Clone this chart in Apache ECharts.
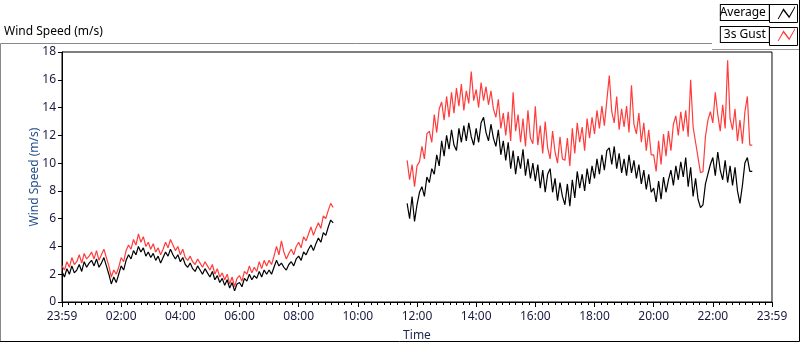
<!DOCTYPE html>
<html>
<head>
<meta charset="utf-8">
<title>Wind Speed</title>
<script src="https://cdn.jsdelivr.net/npm/echarts@6/dist/echarts.min.js"></script>
<style>
  html, body { margin: 0; padding: 0; background: #fff; }
  #chart { width: 800px; height: 342px; }
</style>
</head>
<body>
<div id="chart"></div>
<script>
// minutes since midnight; 5 min steps
const seg1Start = 0;
const seg2Start = 700;
const stepMin = 5;

// 00:00 - 09:10
const avg1 = [
  2.2, 1.8, 2.4, 2.0, 2.6, 2.1, 2.3, 2.7, 2.2, 2.9, 2.5, 2.8,
  3.0, 2.6, 3.1, 2.5, 2.8, 3.2, 2.6, 2.0, 1.3, 1.8, 1.4, 2.0,
  2.6, 2.3, 3.0, 3.4, 3.1, 3.7, 3.4, 4.0, 3.6, 3.9, 3.3, 3.6,
  3.2, 3.5, 3.0, 3.3, 2.8, 3.2, 3.6, 3.3, 3.8, 3.4, 3.1, 3.4,
  2.9, 3.2, 2.7, 2.5, 2.8, 2.4, 2.2, 2.6, 2.3, 2.0, 2.4, 2.1,
  1.8, 2.2, 1.6, 1.9, 1.4, 1.7, 1.2, 1.6, 1.0, 1.4, 0.8, 1.3,
  1.4, 1.1, 1.7, 1.5, 2.0, 1.6, 1.9, 1.7, 2.2, 1.8, 2.3, 2.0,
  2.3, 2.0, 2.5, 3.0, 2.6, 2.8, 2.5, 2.3, 2.7, 2.9, 2.6, 3.1,
  3.3, 3.0, 3.6, 3.4, 3.8, 4.1, 3.7, 4.2, 4.6, 4.3, 5.0, 4.8,
  5.4, 5.9, 5.7
];
const gust1 = [
  2.6, 2.3, 2.9, 2.5, 3.2, 2.7, 2.9, 3.4, 2.8, 3.5, 3.1, 3.3,
  3.6, 3.1, 3.7, 3.0, 3.4, 3.8, 3.2, 2.6, 1.8, 2.3, 2.0, 2.5,
  3.2, 2.9, 3.7, 4.1, 3.8, 4.5, 4.1, 4.9, 4.3, 4.7, 4.0, 4.3,
  3.8, 4.2, 3.6, 3.9, 3.4, 3.8, 4.3, 3.9, 4.5, 4.1, 3.7, 4.0,
  3.4, 3.8, 3.2, 3.0, 3.3, 2.9, 2.7, 3.1, 2.8, 2.5, 2.9, 2.6,
  2.3, 2.7, 2.0, 2.4, 1.8, 2.1, 1.6, 2.0, 1.3, 1.8, 1.1, 1.7,
  1.9, 1.5, 2.2, 2.0, 2.6, 2.1, 2.5, 2.2, 2.9, 2.4, 3.0, 2.6,
  3.0, 2.7, 3.3, 4.0, 3.4, 4.4, 3.6, 3.1, 3.5, 3.8, 3.4, 4.0,
  4.3, 3.9, 4.7, 4.4, 4.9, 5.4, 4.8, 5.3, 5.7, 5.3, 6.2, 6.0,
  6.6, 7.1, 6.8
];

// 11:40 - 23:20
const avg2 = [
  7.1, 6.0, 7.6, 5.8,
  7.0, 7.9, 8.3, 7.6, 9.0, 8.6, 9.6, 9.2, 10.6, 9.8, 11.6, 10.5,
  12.0, 11.0, 12.4, 11.3, 10.9, 12.5, 11.5, 12.7, 11.6, 12.9, 11.9, 11.3,
  12.5, 11.5, 12.9, 13.3, 12.2, 11.6, 12.8, 11.8, 11.2, 12.4, 10.6, 11.6,
  10.2, 11.5, 9.6, 10.9, 9.2, 10.5, 9.6, 11.0, 9.1, 10.3, 8.9, 10.0,
  8.7, 9.9, 8.2, 9.5, 7.9, 9.2, 9.6, 7.9, 8.9, 7.3, 8.6, 7.6,
  7.0, 8.5, 6.9, 8.8, 7.5, 9.4, 8.2, 9.2, 8.0, 9.6, 8.5, 9.8,
  8.9, 10.3, 9.2, 10.6, 9.5, 10.9, 11.1, 9.9, 11.2, 9.6, 10.7, 9.3,
  10.3, 9.1, 10.6, 9.3, 10.2, 8.9, 9.9, 8.5, 9.5, 8.1, 9.2, 7.9,
  8.2, 7.2, 8.7, 7.4, 9.0, 7.9, 8.8, 9.5, 8.4, 9.8, 8.8, 10.1,
  9.0, 10.4, 8.3, 9.7, 7.6, 8.9, 7.4, 6.8, 7.0, 8.5, 9.2, 9.9,
  10.4, 9.1, 10.8, 9.5, 8.8, 10.2, 8.6, 9.8, 8.4, 9.7, 8.0, 7.1,
  8.4, 10.0, 10.4, 9.4, 9.4
];
const gust2 = [
  10.2, 8.8, 9.9, 8.3,
  9.8, 10.1, 11.2, 10.3, 12.1, 12.3, 11.5, 13.5, 12.2, 13.9, 14.4, 13.1,
  14.8, 13.3, 15.1, 13.6, 15.4, 14.1, 15.7, 13.8, 15.2, 14.3, 16.6, 14.5,
  15.3, 14.0, 15.8, 14.5, 15.5, 14.2, 15.2, 13.9, 13.3, 14.6, 12.5, 13.6,
  12.0, 13.7, 11.6, 15.1, 12.3, 13.5, 11.5, 13.2, 11.2, 13.8, 11.8, 11.4,
  14.1, 11.3, 12.7, 10.7, 13.0, 11.1, 10.3, 12.3, 10.8, 10.0, 11.9, 10.3,
  10.2, 11.8, 9.8, 12.5, 10.7, 12.9, 11.5, 12.6, 10.9, 13.2, 11.8, 13.3,
  12.1, 13.8, 12.5, 14.1, 12.7, 14.5, 16.3, 13.7, 12.9, 14.8, 12.4, 13.9,
  12.6, 14.1, 12.2, 15.6, 12.8, 12.1, 13.6, 11.5, 12.9, 10.9, 12.4, 10.6,
  10.6, 9.4, 11.6, 9.9, 12.1, 10.5, 12.3, 10.9, 12.8, 13.4, 12.0, 13.7,
  12.3, 13.8, 11.9, 16.0, 12.6, 11.5, 10.4, 9.3, 9.4, 11.9, 13.1, 13.7,
  12.9, 15.1, 13.5, 12.3, 14.2, 12.5, 17.4, 13.2, 12.4, 13.9, 11.6, 13.1,
  11.4, 13.7, 14.8, 11.3, 11.3
];

const xTicks = [0, 120, 240, 360, 480, 600, 720, 840, 960, 1080, 1200, 1320, 1440];
const xTickLabels = ['23:59', '02:00', '04:00', '06:00', '08:00', '10:00', '12:00',
  '14:00', '16:00', '18:00', '20:00', '22:00', '23:59'];

function pairs(start, vals) {
  return vals.map((v, i) => [start + i * stepMin, v]);
}
function build(a, b) {
  // null in the middle leaves the gap where no data was logged
  return pairs(seg1Start, a).concat([[630, null]], pairs(seg2Start, b));
}

const FONT = 'Noto Sans';
const chart = echarts.init(document.getElementById('chart'));
const zig = 'path://M0,18 L8,3 L16,14 L24,0 L24,2.5 L16,17 L8,6.5 L1.4,18 Z';

chart.setOption({
  animation: false,
  textStyle: { fontFamily: FONT },
  title: {
    text: 'Wind Speed (m/s)',
    left: 4, top: 26, padding: 0,
    textStyle: { fontSize: 12, fontWeight: 'normal', color: '#000', fontFamily: FONT }
  },
  legend: {
    orient: 'vertical',
    right: 5, top: 4, padding: 0,
    align: 'right',
    itemGap: 5,
    itemWidth: 25, itemHeight: 13,
    data: [
      { name: 'Average', icon: zig },
      { name: '3s Gust', icon: zig }
    ],
    textStyle: {
      fontSize: 12, color: '#000', fontFamily: FONT,
      borderColor: '#000', borderWidth: 1, padding: [2, 3, 1, 3],
      width: 42, backgroundColor: '#fff'
    }
  },
  grid: {
    left: 62, right: 28, top: 52, bottom: 40,
    outerBoundsMode: 'none',
    show: true, borderColor: '#000', borderWidth: 1
  },
  xAxis: {
    type: 'value',
    min: 0, max: 1440, interval: 120,
    name: 'Time', nameLocation: 'middle', nameGap: 28, nameMoveOverlap: false,
    nameTextStyle: { fontSize: 12, color: '#1a2550', fontFamily: FONT },
    axisLine: { lineStyle: { color: '#000' } },
    axisTick: { length: 5, lineStyle: { color: '#000' } },
    minorTick: { show: true, splitNumber: 9, length: 3, lineStyle: { color: '#000' } },
    splitLine: { show: false },
    axisLabel: {
      fontSize: 12, color: '#1a1a40', margin: 9,
      formatter: v => xTickLabels[xTicks.indexOf(v)]
    }
  },
  yAxis: {
    type: 'value',
    min: 0, max: 18, interval: 2,
    name: 'Wind Speed (m/s)', nameLocation: 'middle', nameGap: 21, nameMoveOverlap: false,
    nameTextStyle: { fontSize: 12, color: '#24508a', fontFamily: FONT },
    axisLine: { show: true, lineStyle: { color: '#000' } },
    axisTick: { show: true, length: 4, lineStyle: { color: '#000' } },
    splitLine: { show: false },
    axisLabel: { fontSize: 12, color: '#1a1a40', margin: 6 }
  },
  series: [
    {
      name: 'Average', type: 'line', z: 3,
      data: build(avg1, avg2),
      showSymbol: false, connectNulls: false,
      itemStyle: { color: '#000' },
      lineStyle: { color: '#000', width: 1.2 }
    },
    {
      name: '3s Gust', type: 'line', z: 2,
      data: build(gust1, gust2),
      showSymbol: false, connectNulls: false,
      itemStyle: { color: '#ff3c3c' },
      lineStyle: { color: '#ff3c3c', width: 1.2 }
    }
  ],
  graphic: [
    // panel frame
    { type: 'polyline', silent: true, shape: { points: [[0.5, 342], [0.5, 43.5], [712, 43.5]] }, style: { stroke: '#888', fill: null, lineWidth: 1 } },
    { type: 'polyline', silent: true, shape: { points: [[712, 49.5], [799.5, 49.5]] }, style: { stroke: '#999', fill: null, lineWidth: 1 } },
    { type: 'polyline', silent: true, shape: { points: [[799.5, 0], [799.5, 341.5], [0, 341.5]] }, style: { stroke: '#000', fill: null, lineWidth: 1 } },
    // right edge of plot is grey
    { type: 'line', silent: true, z: 10, shape: { x1: 772.5, y1: 52, x2: 772.5, y2: 302 }, style: { stroke: '#888', lineWidth: 1 } },
    // boxes round the legend icons
    { type: 'rect', silent: true, z: 10, shape: { x: 769.5, y: 4.5, width: 28, height: 18 }, style: { stroke: '#000', fill: null, lineWidth: 1 } },
    { type: 'rect', silent: true, z: 10, shape: { x: 769.5, y: 27.5, width: 28, height: 18 }, style: { stroke: '#000', fill: null, lineWidth: 1 } }
  ]
});
</script>
</body>
</html>
